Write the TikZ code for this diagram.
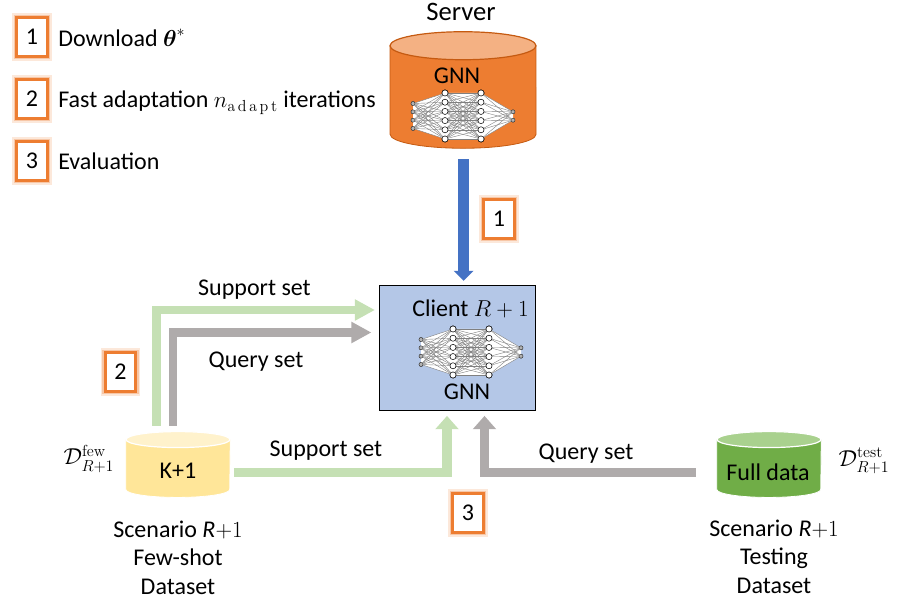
\documentclass[tikz,border=0pt]{standalone}
\usepackage{amsmath,amssymb}
\usepackage[no-math]{fontspec}
\setmainfont{Carlito}
\usetikzlibrary{arrows.meta}

\definecolor{badgeorange}{HTML}{ED7D31}
\definecolor{serverlid}{HTML}{F4B183}
\definecolor{serverline}{HTML}{C55A11}
\definecolor{flowblue}{HTML}{4472C4}
\definecolor{flowgreen}{HTML}{C5E0B4}
\definecolor{flowgray}{HTML}{AFABAB}
\definecolor{clientblue}{HTML}{B4C7E7}
\definecolor{fewbody}{HTML}{FFE699}
\definecolor{fewlid}{HTML}{FFF2CC}
\definecolor{testbody}{HTML}{70AD47}
\definecolor{testlid}{HTML}{A9D18E}

\tikzset{
  badge/.style={rectangle, draw=badgeorange, fill=white, line width=2.2pt, minimum width=23pt, minimum height=29pt, inner sep=0pt, font=\fontsize{18}{21}\selectfont,
    preaction={draw=badgeorange, opacity=.18, line width=6.5pt},
    preaction={draw=badgeorange, opacity=.3, line width=4.5pt}},
  txt/.style={inner sep=0pt, font=\fontsize{18}{21.4}\selectfont},
  dbase/.style={rectangle, inner sep=0pt, minimum width=78pt, minimum height=49pt},
  flowtop/.style={line width=6.5pt, -{Triangle[length=15pt,width=15pt]}},
  flowlow/.style={line width=7pt, -{Triangle[length=10pt,width=17pt]}},
  flowdown/.style={line width=8pt, -{Triangle[length=7.5pt,width=14.5pt]}},
  gnnbig/.style={circle, draw=black, fill=white, line width=.4pt, minimum size=4.6pt, inner sep=0pt},
  gnnsmall/.style={circle, draw=black!80, fill=black!30, line width=.3pt, minimum size=3pt, inner sep=0pt},
  gnnedge/.style={draw=black!50, line width=.3pt}
}

\newcommand{\gnnnet}[2]{
  \begin{scope}[shift={#2}]
    \foreach \i in {1,...,4} \node[gnnsmall] (#1a\i) at (-50,{(\i-2.5)*8.3}) {};
    \foreach \i in {1,...,6} \node[gnnbig] (#1b\i) at (-18,{(\i-3.5)*9.2}) {};
    \foreach \i in {1,...,6} \node[gnnbig] (#1c\i) at (18,{(\i-3.5)*9.2}) {};
    \foreach \i in {1,2} \node[gnnsmall] (#1d\i) at (50,{(\i-1.5)*8.3}) {};
    \fill[white] (#1a1.center) -- (#1b1.center) -- (#1c1.center) -- (#1d1.center) -- (#1d2.center) -- (#1c6.center) -- (#1b6.center) -- (#1a4.center) -- cycle;
    \foreach \i in {1,...,4} \foreach \j in {1,...,6} \draw[gnnedge] (#1a\i) -- (#1b\j);
    \foreach \i in {1,...,6} \foreach \j in {1,...,6} \draw[gnnedge] (#1b\i) -- (#1c\j);
    \foreach \i in {1,...,6} \foreach \j in {1,2} \draw[gnnedge] (#1c\i) -- (#1d\j);
    \foreach \i in {1,...,4} \node[gnnsmall] at (#1a\i) {};
    \foreach \i in {1,...,6} \node[gnnbig] at (#1b\i) {};
    \foreach \i in {1,...,6} \node[gnnbig] at (#1c\i) {};
    \foreach \i in {1,2} \node[gnnsmall] at (#1d\i) {};
  \end{scope}
}

% node name, x radius, y radius, body colour, lid colour, outline colour
\newcommand{\dbdraw}[6]{
  \fill[#4] ([shift={(0,#3)}] #1.north west) -- ([shift={(0,-#3)}] #1.south west)
    arc[start angle=180, end angle=0, x radius=#2, y radius=#3] -- ([shift={(0,#3)}] #1.north east) -- cycle;
  \draw[#6, line width=.6pt] ([shift={(0,#3)}] #1.north west) -- ([shift={(0,-#3)}] #1.south west)
    arc[start angle=180, end angle=0, x radius=#2, y radius=#3] -- ([shift={(0,#3)}] #1.north east);
  \draw[#6, line width=.9pt, fill=#5] ([shift={(0,#3)}] #1.north) ellipse[x radius=#2, y radius=#3];
}

\begin{document}
\begin{tikzpicture}[x=.75pt, y=-.75pt]
  \useasboundingbox (0,0) rectangle (897,602);

  \node[badge] (legend1) at (32,37) {1};
  \node[badge] (legend2) [below of=legend1, node distance=46.5pt] {2};
  \node[badge] (legend3) [below of=legend2, node distance=46.5pt] {3};
  \node[txt, anchor=base west] (legendtxt1) at (58,46.5) {Download $\boldsymbol{\theta}^{*}$};
  \node[txt, anchor=base west] (legendtxt2) at (58,108) {Fast adaptation $n_{\mathrm{a\,d\,a\,p\,t}}$ iterations};
  \node[txt, anchor=base west] (legendtxt3) at (58,169.5) {Evaluation};

  \node[dbase, minimum width=109pt, minimum height=87pt] (server) at (463,90) {};
  \dbdraw{server}{73}{14}{badgeorange}{serverlid}{serverline}
  \node[txt, font=\fontsize{20}{24}\selectfont] (servertxt) at (461,12) {Server};
  \node[txt] (servergnn) at (457,76) {GNN};
  \gnnnet{s}{(463,116)}

  \node[draw=black, line width=.8pt, fill=clientblue, minimum width=117pt, minimum height=94pt, inner sep=0pt] (client) at (457.5,348) {};
  \node[txt] (clienttxt) at (470.5,309) {Client $R+1$};
  \gnnnet{c}{(471,352)}
  \node[txt] (clientgnn) at (467,392) {GNN};

  \node[dbase] (kdata) at (178,464.5) {};
  \dbdraw{kdata}{52}{8}{fewbody}{fewlid}{white}
  \node[txt] (ktxt) at (178,471) {K+1};
  \node[dbase] (fulldata) at (769,464.5) {};
  \dbdraw{fulldata}{52}{8}{testbody}{testlid}{white}
  \node[txt] (fulltxt) at (768,472) {Full data};

  \node[txt] (fewsym) at (89,459) {$\mathcal{D}_{R+1}^{\mathrm{few}}$};
  \node[txt] (testsym) at (864,461) {$\mathcal{D}_{R+1}^{\mathrm{test}}$};

  \node[txt] (fewcap) at (178,560) {\begin{tabular}{@{}c@{}}Scenario \textit{R}$+1$\\Few-shot\\Dataset\end{tabular}};
  \node[txt] (testcap) at (774,559) {\begin{tabular}{@{}c@{}}Scenario \textit{R}$+1$\\Testing\\Dataset\end{tabular}};

  \draw[flowdown, flowblue] ([shift={(.7,11)}] server.south) -- ([shift={(6.2,-4)}] client.north);
  \draw[flowtop, flowgreen] ([shift={(-21.7,-6)}] kdata.north) |- ([shift={(-4,-38)}] client.west);
  \draw[flowtop, flowgray] ([shift={(-5,-6)}] kdata.north) |- ([shift={(-7.5,-15.5)}] client.west);
  \draw[flowlow, flowgreen] ([shift={(3.5,8.2)}] kdata.east) -| ([shift={(-10.5,4.7)}] client.south);
  \draw[flowlow, flowgray] ([shift={(-21,8.2)}] fulldata.west) -| ([shift={(27,4.7)}] client.south);

  \node[badge] (badge1) at (499,219) {1};
  \node[badge] (badge2) at (120.5,372) {2};
  \node[badge] (badge3) at (468,513) {3};

  \node[txt] (support1) at (254.5,290) {Support set};
  \node[txt] (query1) at (256,362) {Query set};
  \node[txt] (support2) at (326,451) {Support set};
  \node[txt] (query2) at (586,454) {Query set};
\end{tikzpicture}
\end{document}
